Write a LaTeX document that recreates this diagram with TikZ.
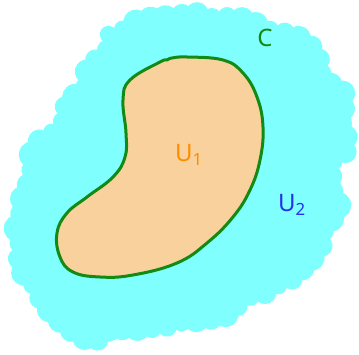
\documentclass[tikz,border=0pt]{standalone}
\usepackage{fontspec}
\setsansfont{Noto Sans}
\usepackage{xcolor}
\usepackage{tikz}
\usetikzlibrary{decorations.markings}

\definecolor{blobcyan}{HTML}{80FFFF}
\definecolor{peach}{HTML}{F9D19C}
\definecolor{curvegreen}{HTML}{138A13}
\definecolor{labelorange}{HTML}{FF8C00}
\definecolor{labelblue}{HTML}{2233EE}

\begin{document}
\begin{tikzpicture}[
    x=1pt, y=-1pt,
    every node/.style={font=\sffamily\bfseries\fontsize{24}{24}\selectfont},
    region/.style={fill=#1, draw=none},
    bump/.style={fill=blobcyan, draw=none},
    boundary/.style={draw=curvegreen, line width=3pt, fill=peach, line join=round},
    lab/.style={text=#1, inner sep=0pt},
  ]
  \useasboundingbox[fill=white] (0,0) rectangle (359,355);
  \pgfmathsetseed{5}

  % --- Outer region U2 ---
  \path[region=blobcyan] plot[smooth cycle, tension=0.6] coordinates {
    (114,31) (167,16) (231,18) (250,24) (285,33) (303,42) (320,58) (323,79)
    (342,93) (339,115) (346,149) (336,162) (329,180) (336,211) (323,229)
    (320,248) (304,261) (292,278) (266,290) (254,297) (230,309) (211,319)
    (187,322) (145,329) (114,326) (91,342) (73,330) (52,311) (33,288)
    (21,264) (18,231) (24,199) (31,167) (40,142) (62,121) (67,102) (82,93)
    (89,66) (105,52)};
  \path[decorate, decoration={markings,
      mark=between positions 0 and 1 step 15pt with
      {\fill[bump] (0,{2*rand}) circle[radius={(11+3*rand)*1pt}];}}]
    plot[smooth cycle, tension=0.6] coordinates {
    (114,31) (167,16) (231,18) (250,24) (285,33) (303,42) (320,58) (323,79)
    (342,93) (339,115) (346,149) (336,162) (329,180) (336,211) (323,229)
    (320,248) (304,261) (292,278) (266,290) (254,297) (230,309) (211,319)
    (187,322) (145,329) (114,326) (91,342) (73,330) (52,311) (33,288)
    (21,264) (18,231) (24,199) (31,167) (40,142) (62,121) (67,102) (82,93)
    (89,66) (105,52)};

  % --- Inner region U1 with curve C ---
  \draw[boundary] plot[smooth cycle, tension=0.7] coordinates {
    (130,80) (160,62) (167,60) (172,58) (187,57) (223,60) (243,73) (257,97)
    (263,127) (260,160) (250,190) (233,217) (207,243) (177,263) (133,275)
    (100,277) (73,272) (60,257) (57,233) (67,213) (87,197) (113,177)
    (125,157) (126,133) (123,100)};

  % --- Labels ---
  \node[lab=curvegreen] (curveC) at (265,38) {C};
  \node[lab=labelorange] (labU1) at (189,155) {U\textsubscript{1}};
  \node[lab=labelblue] (labU2) at (292,205) {U\textsubscript{2}};

\end{tikzpicture}
\end{document}
